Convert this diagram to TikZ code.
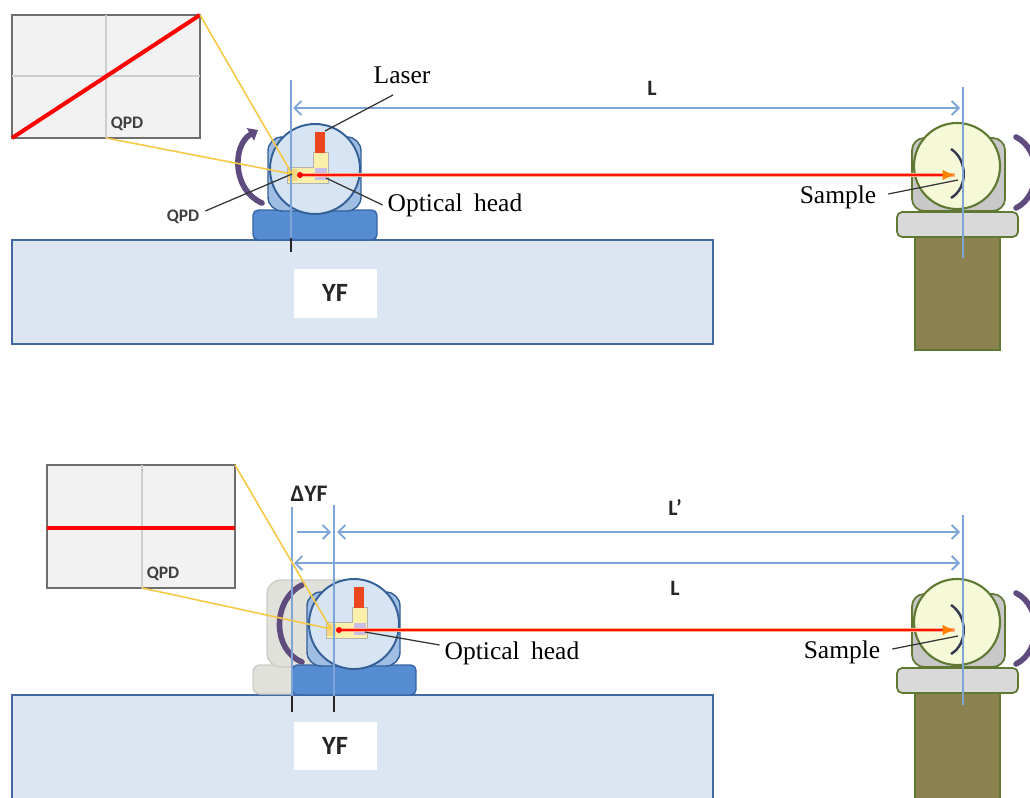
\documentclass[tikz,border=0pt]{standalone}
\usepackage{fontspec}
\setmainfont{Liberation Serif}
\newfontfamily\labfont{Carlito}
\usetikzlibrary{arrows.meta}

\definecolor{dimblue}{RGB}{125,165,215}
\definecolor{tablefill}{RGB}{220,230,242}
\definecolor{tableedge}{RGB}{65,105,160}
\definecolor{basefill}{RGB}{85,140,210}
\definecolor{baseedge}{RGB}{55,100,165}
\definecolor{backfill}{RGB}{160,190,228}
\definecolor{ballfill}{RGB}{215,228,243}
\definecolor{balledge}{RGB}{50,95,150}
\definecolor{ghostfill}{RGB}{225,225,220}
\definecolor{ghostedge}{RGB}{205,205,200}
\definecolor{rotpurple}{RGB}{95,75,125}
\definecolor{leafedge}{RGB}{95,120,50}
\definecolor{samplefill}{RGB}{245,249,215}
\definecolor{stagegray}{RGB}{200,200,200}
\definecolor{plategray}{RGB}{217,217,217}
\definecolor{postolive}{RGB}{140,130,80}
\definecolor{qyellow}{RGB}{245,200,70}
\definecolor{modyellow}{RGB}{250,240,170}
\definecolor{laserred}{RGB}{235,70,30}
\definecolor{prism}{RGB}{200,190,230}
\definecolor{beamglow}{RGB}{255,170,140}
\definecolor{beamred}{RGB}{255,20,0}
\definecolor{insetfill}{RGB}{242,242,242}
\definecolor{insetedge}{RGB}{110,110,110}
\definecolor{gridgray}{RGB}{205,205,205}
\definecolor{mirrorink}{RGB}{50,55,80}

\tikzset{
  dimline/.style={draw=dimblue, line width=1.1pt},
  dimarrow/.style={draw=dimblue, line width=1.1pt},
  barb/.tip={Straight Barb[length=4pt,width=8pt,line width=1.1pt]},
  leader/.style={draw=black!80, line width=0.7pt},
  qpdray/.style={draw=qyellow, line width=0.9pt},
  tick/.style={draw=black!85, line width=1pt},
  serifl/.style={font=\fontsize{14.5}{16}\selectfont, inner sep=1pt},
  sansl/.style={font=\labfont\bfseries\fontsize{12.5}{13}\selectfont, text=black!85, inner sep=1pt},
  qpdl/.style={font=\labfont\bfseries\fontsize{10}{11}\selectfont, text=black!75, inner sep=1pt},
  rotarrow/.style={draw=rotpurple, line width=3.2pt, line cap=round},
  beamglowline/.style={draw=beamglow, line width=2.4pt},
  beamcore/.style={draw=beamred, line width=1pt},
  % optical head on its carriage
  opthead/.pic={
    \draw[fill=basefill, draw=baseedge, line width=0.8pt, rounded corners=3pt] (253,210) rectangle (377,240);
    \draw[fill=backfill, draw=balledge, line width=0.8pt, rounded corners=8pt] (268,137) rectangle (361,211);
    \draw[fill=ballfill, draw=balledge, line width=1.1pt] (315,169) circle[radius=45];
    \fill[modyellow, draw=black!30, line width=0.3pt] (313,152) -- (328,152) -- (328,183) -- (287,183) -- (287,167) -- (313,167) -- cycle;
    \fill[laserred] (315,132) rectangle (325,153);
    \fill[prism] (315,168) rectangle (327,180);
    \fill[qyellow!70] (288,169) rectangle (297,181);
  },
  % sample on its rotation stage and post
  samplestage/.pic={
    \draw[fill=postolive, draw=leafedge, line width=1pt] (915,237) rectangle (1000,350);
    \draw[fill=plategray, draw=leafedge, line width=1pt, rounded corners=3pt] (897,212) rectangle (1018,237);
    \draw[fill=stagegray, draw=leafedge, line width=1pt, rounded corners=7pt] (912,138) rectangle (1005,211);
    \draw[fill=samplefill, draw=leafedge, line width=1.2pt] (957,166) circle[radius=43];
    \draw[mirrorink, line width=1.4pt] (951,149) .. controls (968,160) and (968,188) .. (951,198);
    \draw[rotarrow] (1016,137) .. controls (1042,150) and (1042,195) .. (1016,208);
  }
}

\begin{document}
\begin{tikzpicture}[x=0.02cm, y=-0.02cm]
\useasboundingbox (0,0) rectangle (1030,797);
\fill[white] (0,0) rectangle (1030,797);

% ===================== upper panel =====================
% yaw frame
\draw[fill=tablefill, draw=tableedge, line width=1.2pt] (12,240) rectangle (713,344);
\node[fill=white, minimum width=83*0.02cm, minimum height=49*0.02cm, font=\labfont\bfseries\fontsize{15}{16}\selectfont, text=black!85] (yfA) at (335,293) {YF};

% QPD inset
\draw[fill=insetfill, draw=insetedge, line width=1.2pt] (12,15) rectangle (200,138);
\draw[gridgray, line width=0.8pt] (106,15) -- (106,138) (12,76) -- (200,76);
\coordinate (iA1) at (12,138);
\coordinate (iA2) at (200,15);
\coordinate (iA3) at (106,138);
\draw[red, line width=2.3pt] (iA1) -- (iA2);
\node[qpdl] (qpdinA) at (127,124) {QPD};

% optical head
\pic at (0,0) {opthead};
\draw[rotarrow, -{Triangle[length=5pt,width=8pt]}] (262,203) .. controls (232,190) and (232,145) .. (258,130);

% sample
\pic at (0,0) {samplestage};

% reference lines and distance L
\coordinate (vA1) at (291,80);
\coordinate (vA2) at (291,240);
\coordinate (vB1) at (963,87);
\coordinate (vB2) at (963,258);
\draw[dimline] (vA1) -- (vA2);
\draw[dimline] (vB1) -- (vB2);
\draw[tick] (291,238) -- (291,252);
\coordinate (LA1) at (293,108);
\coordinate (LA2) at (960,108);
\draw[dimarrow, barb-barb] (LA1) -- (LA2);
\node[sansl] (LlabA) at (652,88) {L};

% beam
\coordinate (dotA) at (300,175);
\coordinate (mirA) at (955,175);
\coordinate (qpdA) at (292,174);
\draw[beamglowline] (dotA) -- (mirA);
\draw[beamcore, -{Latex[length=7pt,width=6pt,color=orange]}] (dotA) -- (mirA);
\fill[red] (dotA) circle[radius=3];
\draw[qpdray] (iA2) -- (qpdA);
\draw[qpdray] (iA3) -- (qpdA);

% labels
\node[serifl] (laserA) at (402,75) {Laser};
\coordinate (laserendA) at (325,131);
\draw[leader] (393,95) -- (laserendA);
\node[serifl] (ohA) at (455,205) {Optical\hspace{0.45em}head};
\coordinate (ohendA) at (326,178);
\draw[leader] (ohA.west) ++(-3,0) -- (ohendA);
\node[qpdl] (qpdlabA) at (183,217) {QPD};
\draw[leader] (qpdlabA.east) ++(4,-6) -- (qpdA);
\node[serifl] (sampleA) at (838,197) {Sample};
\coordinate (samendA) at (958,180);
\draw[leader] (sampleA.east) ++(10,-3) -- (samendA);

% ===================== lower panel =====================
\draw[fill=tablefill, draw=tableedge, line width=1.2pt] (12,695) rectangle (713,810);
\node[fill=white, minimum width=83*0.02cm, minimum height=48*0.02cm, font=\labfont\bfseries\fontsize{15}{16}\selectfont, text=black!85] (yfB) at (335,746) {YF};

% QPD inset
\draw[fill=insetfill, draw=insetedge, line width=1.2pt] (47,465) rectangle (235,588);
\draw[gridgray, line width=0.8pt] (142,465) -- (142,588);
\coordinate (iB1) at (47,528);
\coordinate (iB2) at (235,528);
\coordinate (iB3) at (235,465);
\coordinate (iB4) at (142,588);
\draw[red, line width=2.3pt] (iB1) -- (iB2);
\node[qpdl] (qpdinB) at (163,574) {QPD};

% previous head position (ghost)
\draw[fill=ghostfill, draw=ghostedge, line width=0.8pt, rounded corners=4pt] (253,665) rectangle (375,694);
\draw[fill=ghostfill, draw=ghostedge, line width=0.8pt, rounded corners=8pt] (267,580) rectangle (358,667);
\draw[rotarrow] (302,585) .. controls (272,600) and (272,650) .. (302,662);

% displaced head
\pic at (39,455) {opthead};

% sample
\pic at (0,456) {samplestage};

% reference lines, distances
\coordinate (vC1) at (292,507);
\coordinate (vC2) at (292,696);
\coordinate (vD1) at (334,505);
\coordinate (vD2) at (334,696);
\coordinate (vE1) at (963,515);
\coordinate (vE2) at (963,705);
\draw[dimline] (vC1) -- (vC2);
\draw[dimline] (vD1) -- (vD2);
\draw[dimline] (vE1) -- (vE2);
\draw[tick] (292,696) -- (292,712);
\draw[tick] (334,696) -- (334,712);
\coordinate (dyf1) at (297,532);
\coordinate (dyf2) at (331,532);
\draw[dimarrow, -barb] (dyf1) -- (dyf2);
\coordinate (Lp1) at (337,532);
\coordinate (Lp2) at (960,532);
\draw[dimarrow, barb-barb] (Lp1) -- (Lp2);
\coordinate (LB1) at (294,563);
\coordinate (LB2) at (960,563);
\draw[dimarrow, barb-barb] (LB1) -- (LB2);
\node[sansl, font=\labfont\bfseries\fontsize{13.5}{14}\selectfont] (dyflab) at (309,494) {ΔYF};
\node[sansl] (Lplab) at (675,508) {L’};
\node[sansl] (LlabB) at (675,588) {L};

% beam
\coordinate (dotB) at (339,630);
\coordinate (mirB) at (955,630);
\coordinate (qpdB) at (331,629);
\draw[beamglowline] (dotB) -- (mirB);
\draw[beamcore, -{Latex[length=7pt,width=6pt,color=orange]}] (dotB) -- (mirB);
\fill[red] (dotB) circle[radius=3];
\draw[qpdray] (iB3) -- (qpdB);
\draw[qpdray] (iB4) -- (qpdB);

% labels
\node[serifl] (ohB) at (512,653) {Optical\hspace{0.45em}head};
\coordinate (ohendB) at (365,632);
\draw[leader] (ohB.west) ++(-3,-8) -- (ohendB);
\node[serifl] (sampleB) at (842,652) {Sample};
\coordinate (samendB) at (958,636);
\draw[leader] (sampleB.east) ++(10,-3) -- (samendB);

\end{tikzpicture}
\end{document}
